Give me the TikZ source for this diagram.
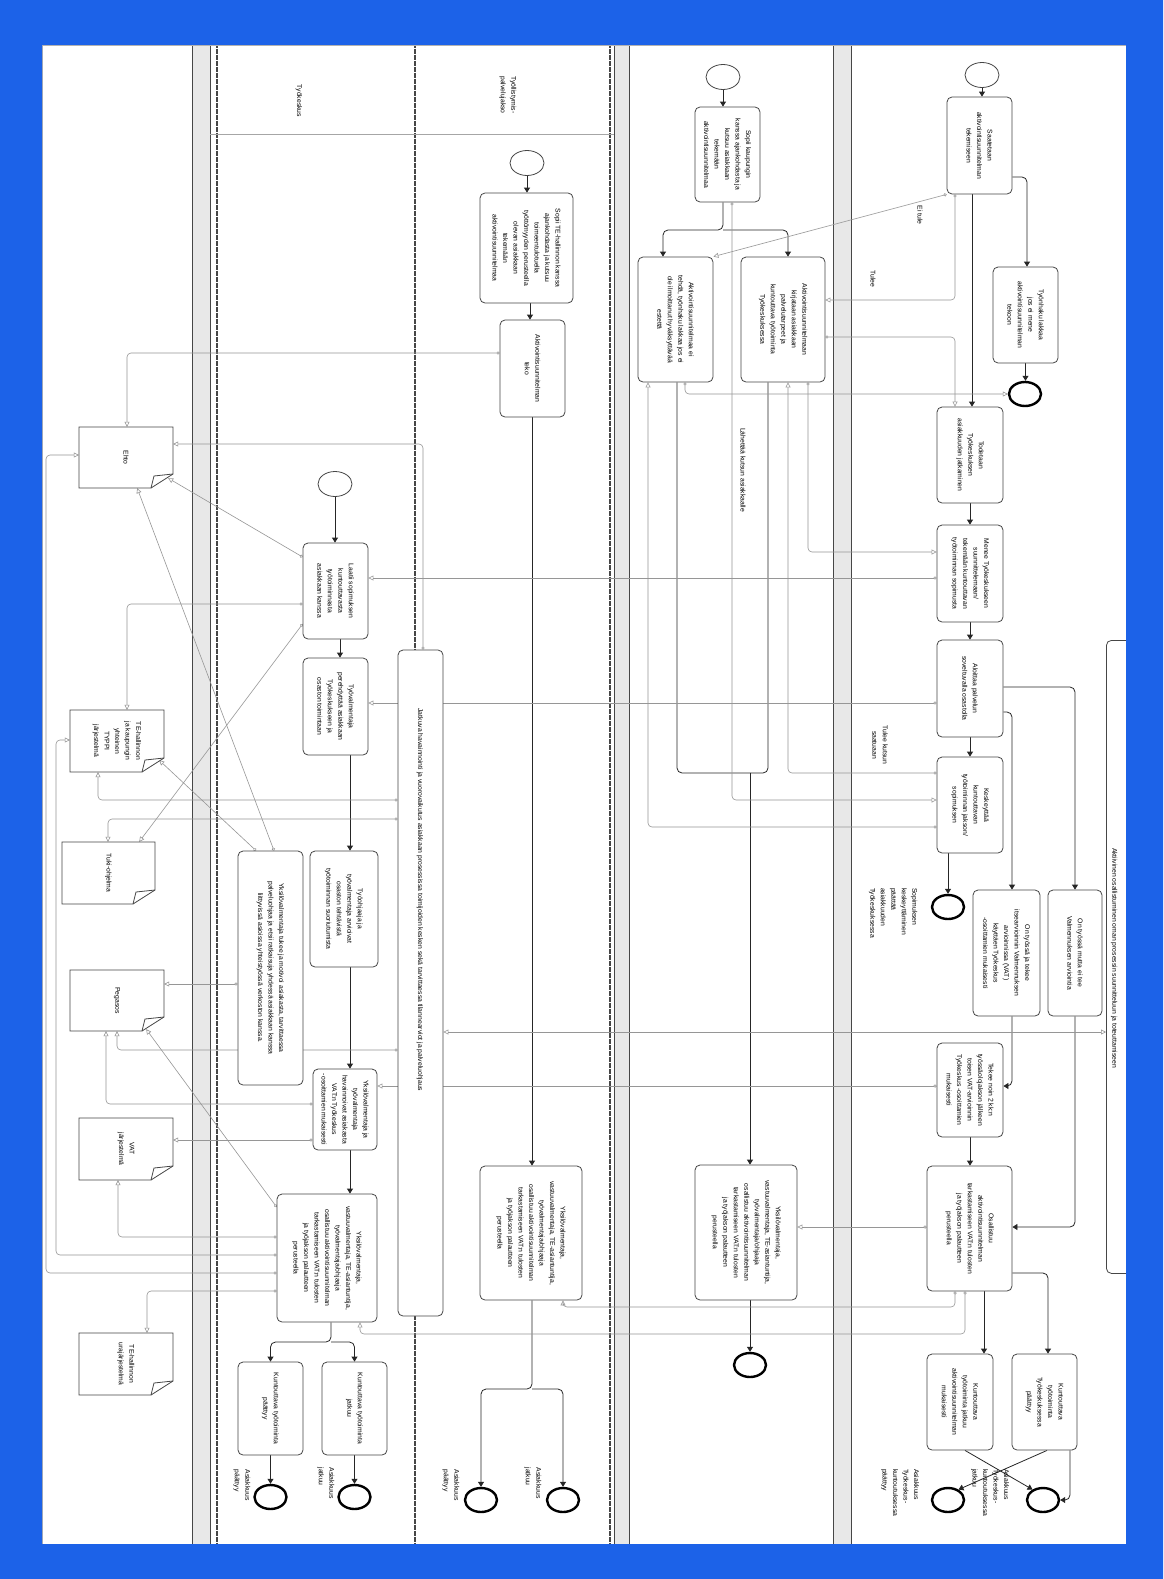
\documentclass[tikz,border=0pt]{standalone}
\usepackage{fontspec}
\setmainfont{Liberation Sans}
\usepackage{graphicx}
\usetikzlibrary{shapes.geometric,arrows.meta}
\definecolor{frameblue}{RGB}{28,98,232}
\definecolor{boxline}{RGB}{70,70,70}
\definecolor{msgc}{RGB}{150,150,150}
\definecolor{bandgray}{RGB}{232,232,232}
\pgfdeclarelayer{bg}
\pgfdeclarelayer{mid}
\pgfsetlayers{bg,mid,main}
\newcommand{\tb}[6]{\node[task, minimum width={#4-#2}, minimum height={#5-#3}] (#1) at ({(#2+#4)/2},{(#3+#5)/2}) {\rotatebox{-90}{\parbox{\dimexpr#5pt-#3pt-6pt\relax}{\centering #6}}};}
\newcommand{\lb}[5]{\node[inner sep=0] (#1) at (#2,#3) {\rotatebox{-90}{\parbox{#4pt}{#5}}};}
\newcommand{\docu}[6]{%
 \draw[docline] (#2,#3) -- (#4,#3) -- (#4,#5-14) -- (#4-22,#5) -- (#2,#5) -- cycle;
 \draw[docline,fill=none] (#4-22,#5) -- (#4-19,#5-12) -- (#4,#5-14);
 \node[inner sep=0, minimum width={#4-#2}, minimum height={#5-#3}] (#1) at ({(#2+#4)/2},{(#3+#5)/2}) {\rotatebox{-90}{\parbox{\dimexpr#5pt-#3pt-6pt\relax}{\centering #6}}};}
\begin{document}
\begin{tikzpicture}[x=1pt,y=-1pt,
  font=\fontsize{6.8}{10.5}\selectfont,
  task/.style={draw=boxline, line width=0.8, rounded corners=5, fill=white, inner sep=0},
  startev/.style={ellipse, draw=boxline, line width=0.8, fill=white, minimum width=34, minimum height=25, inner sep=0},
  endev/.style={ellipse, draw=black, line width=2.4, fill=white, minimum width=32, minimum height=24, inner sep=0},
  docline/.style={draw=boxline, line width=0.8, fill=white},
  seq/.style={draw=black!85, line width=0.8, rounded corners=5, arrows={-Triangle[length=5pt,width=6pt]}},
  seqnt/.style={draw=black!85, line width=0.8, rounded corners=5},
  msg/.style={draw=msgc, line width=0.6, rounded corners=4, arrows={Circle[open,length=3.2pt,width=3.2pt]-Triangle[open,length=5pt,width=5pt]}},
  msgboth/.style={draw=msgc, line width=0.6, arrows={Triangle[open,length=5pt,width=5pt]-Triangle[open,length=5pt,width=5pt]}},
  lanedot/.style={draw=gray!55!black, line width=1.3, dash pattern=on 0.6pt off 0.6pt},
  poolln/.style={draw=gray!55!black, line width=0.9}]
\useasboundingbox (0,0) rectangle (1163,1579);

\begin{pgfonlayer}{bg}
\fill[white] (42,45) rectangle (1126,1544);
\fill[bandgray] (192,45) rectangle (210,1544);
\fill[bandgray] (614,45) rectangle (629,1544);
\fill[bandgray] (833,45) rectangle (851,1544);
\draw[poolln] (192,45) -- (192,1544);
\draw[poolln] (210,45) -- (210,1544);
\draw[poolln] (614,45) -- (614,1544);
\draw[poolln] (629,45) -- (629,1544);
\draw[poolln] (833,45) -- (833,1544);
\draw[poolln] (851,45) -- (851,1544);
\draw[lanedot] (217,45) -- (217,1544);
\draw[lanedot] (415,45) -- (415,1544);
\draw[lanedot] (610,45) -- (610,1544);
\draw[gray!70, line width=0.8] (210,134) -- (614,134);
\end{pgfonlayer}

% ---------- Pool C ----------
\node[task, minimum width=40, minimum height=633, anchor=north west] (longb) at (1106,640) {};
\node[startev] (sC) at (982,75) {};
\tb{tSaat}{947}{97}{1012}{194}{Saatetaan\\aktivointisuunnitelman\\tekemiseen}
\tb{tLakkaa}{993}{267}{1058}{363}{Työnhaku lakkaa\\jos ei mene\\aktivointisuunnitelman\\tekoon}
\node[endev] (eLakkaa) at (1025,394) {};
\tb{tTodetaan}{937}{407}{1003}{503}{Todetaan\\Työkeskuksen\\asiakkuuden jatkaminen}
\tb{tMenee}{937}{525}{1003}{622}{Menee Työkeskukseen\\suunnittelemaan/\\tekemään kuntouttavan\\työtoiminnan sopimusta}
\tb{tAloittaa}{937}{640}{1003}{737}{Aloittaa palvelun\\soveltuvalla osastolla}
\tb{tKeskeyt}{937}{757}{1003}{853}{Keskeyttää\\kuntouttavan\\työtoiminnan jakson/\\sopimuksen}
\node[endev] (eKesk) at (948,907) {};
\tb{tOnTeke}{973}{890}{1040}{1016}{On työssä ja tekee\\itsearvioinnin Valmennuksen\\arvioinnissa (VAT)\\käyttäen Työkeskus\\-osoittamien mukaisesti}
\tb{tOnEi}{1048}{890}{1102}{1016}{On työssä mutta ei tee\\Valmennuksen arviointia}
\tb{tTekee}{937}{1043}{1003}{1137}{Tekee noin 2 kk:n\\työssäolojakson jälkeen\\toisen VAT-arvioinnin\\Työkeskus -osoittamien\\mukaisesti}
\tb{tOsall}{927}{1166}{1012}{1291}{Osallistuu\\aktivointisuunnitelman\\tarkastamiseen VAT:n tulosten\\ja työjakson palautteen\\perusteella}
\tb{tJatkuu}{927}{1354}{993}{1450}{Kuntouttava\\työtoiminta jatkuu\\aktivointisuunnitelman\\mukaisesti}
\tb{tPaattyy}{1012}{1354}{1077}{1450}{Kuntouttava\\työtoiminta\\Työkeskuksessa\\päättyy}
\node[endev] (eC1) at (948,1500) {};
\node[endev] (eC2) at (1043,1500) {};

% ---------- Pool B ----------
\node[startev] (sB) at (723,77) {};
\tb{tSopii}{695}{107}{760}{202}{Sopii kaupungin\\kanssa ajankohdasta ja\\kutsuu asiakkaan\\tekemään\\aktivointisuunnitelmaa}
\tb{t18}{638}{257}{713}{382}{Aktivointisuunnitelmaa ei\\tehdä, työnhaku lakkaa jos ei\\ole ilmoittanut hyväksyttävää\\estettä}
\tb{t19}{741}{257}{825}{382}{Aktivointisuunnitelmaan\\kirjataan asiakkaan\\palvelutarpeet ja\\kuntouttava työtoiminta\\Työkeskuksessa}
\tb{t20}{695}{1165}{797}{1300}{Yksilövalmentaja,\\vastuuvalmentaja, TE-asiantuntija,\\työvalmentaja/ohjaaja\\osallistuu aktivointisuunnitelman\\tarkastamiseen VAT:n tulosten\\ja työjakson palautteen\\perusteella}
\node[endev] (eB) at (750,1365) {};

% ---------- Pool A, lane 2 ----------
\node[startev] (sA2) at (527,163) {};
\tb{t23}{480}{193}{573}{303}{Sopii TE-hallinnon kanssa\\ajankohdasta ja kutsuu\\toimeentulotuella\\työttömyyden perusteella\\olevan asiakkaan\\tekemään\\aktivointisuunnitelmaa}
\tb{t24}{500}{320}{565}{417}{Aktivointisuunnitelman\\teko}
\tb{t21}{480}{1166}{582}{1300}{Yksilövalmentaja,\\vastuuvalmentaja, TE-asiantuntija,\\työvalmentaja/ohjaaja\\osallistuu aktivointisuunnitelman\\tarkastamiseen VAT:n tulosten\\ja työjakson palautteen\\perusteella}
\node[endev] (eA2a) at (481,1500) {};
\node[endev] (eA2b) at (563,1500) {};
\node[task, minimum width=45, minimum height=666] (jat) at (420.5,983) {};

% ---------- Pool A, lane 1 ----------
\node[startev] (sA1) at (335,484) {};
\tb{L1}{303}{543}{368}{639}{Laatii sopimuksen\\kuntouttavasta\\työtoiminnasta\\asiakkaan kanssa}
\tb{L2}{303}{658}{368}{755}{Työvalmentaja\\perehdyttää asiakkaan\\Työkeskukseen ja\\osaston toimintaan}
\tb{L3}{238}{851}{303}{1085}{Yksilövalmentaja tukee ja motivoi asiakasta, tarvittaessa\\palveluohjaa ja etsii ratkaisuja yhdessä asiakkaan kanssa\\liittyvissä asioissa yhteistyössä verkoston kanssa.}
\tb{L4}{310}{851}{378}{967}{Työohjaaja ja\\työvalmentaja arvioivat\\osaston tehtävistä\\työtoiminnan suoriutumista}
\tb{L5}{313}{1069}{377}{1150}{Yksilövalmentaja ja\\työvalmentaja\\havainnoivat asiakasta\\VAT:n Työkeskus\\-osoittamien mukaisesti}
\tb{L6}{277}{1194}{377}{1322}{Yksilövalmentaja,\\vastuuvalmentaja, TE-asiantuntija,\\työvalmentaja/ohjaaja\\osallistuu aktivointisuunnitelman\\tarkastamiseen VAT:n tulosten\\ja työjakson palautteen\\perusteella}
\tb{L7}{238}{1362}{303}{1455}{Kuntouttava työtoiminta\\päättyy}
\tb{L8}{322}{1362}{387}{1455}{Kuntouttava työtoiminta\\jatkuu}
\node[endev] (eA1a) at (270.5,1497) {};
\node[endev] (eA1b) at (354.5,1497) {};

% ---------- Documents ----------
\docu{ehto}{79}{427}{173}{488}{Ehto}
\docu{typpi}{70}{710}{164}{772}{TE-hallinnon\\ja kaupungin\\yhteinen\\TYPPI\\järjestelmä}
\docu{tuki}{62}{842}{155}{904}{Tuki-ohjelma}
\docu{peg}{70}{970}{164}{1031}{Pegasos}
\docu{vat}{79}{1118}{173}{1180}{VAT\\järjestelmä}
\docu{ura}{79}{1333}{173}{1395}{TE-hallinnon\\urajärjestelmä}

% ---------- Labels ----------
\lb{hA1}{299}{101}{60}{\centering Työkeskus}
\lb{hA2}{508}{95}{60}{\centering Työllistymis-\\palvelujakso}
\lb{jatT}{420}{900}{440}{\centering Jatkuva havainnointi ja vuorovaikutus asiakkaan prosessissa toimijoiden kesken sekä tarvittaessa tilannearviot ja palveluohjaus}
\lb{longT}{1114}{958}{300}{\centering Aktiivinen osallistuminen oman prosessin suunnitteluun ja toteuttamiseen}
\lb{lEi}{920}{215}{40}{\centering Ei tule}
\lb{lTulee}{873}{279}{40}{\centering Tulee}
\lb{lKutsu}{880}{745}{60}{\centering Tulee kutsun\\saatuaan}
\lb{lLah}{743}{470}{120}{\centering Lähettää kutsun asiakkaalle}
\lb{lSop}{893}{918}{60}{\raggedright Sopimuksen\\keskeyttäminen\\päättää\\asiakkuuden\\Työkeskuksessa}
\lb{lC1}{900}{1500}{62}{\raggedright Asiakkuus\\Työkeskus-\\kuntoutuksessa\\päättyy}
\lb{lC2}{990}{1500}{62}{\raggedright Asiakkuus\\Työkeskus-\\kuntoutuksessa\\jatkuu}
\lb{lA2a}{451}{1492}{45}{\raggedright Asiakkuus\\päättyy}
\lb{lA2b}{533}{1490}{45}{\raggedright Asiakkuus\\jatkuu}
\lb{lA1a}{242}{1492}{45}{\raggedright Asiakkuus\\päättyy}
\lb{lA1b}{326}{1490}{45}{\raggedright Asiakkuus\\jatkuu}

% ---------- Connectors ----------
\begin{pgfonlayer}{mid}
% pool C
\draw[seq] (sC.south) -- (sC.south |- tSaat.north);
\draw[seq] (tSaat.east |- 0,177) -| (1027,0 |- tLakkaa.north);
\draw[seq] (tLakkaa.south) -- (tLakkaa.south |- eLakkaa.north);
\draw[seq] (972,0 |- tSaat.south) -- (972,0 |- tTodetaan.north);
\draw[seq] (tTodetaan.south) -- (tMenee.north);
\draw[seq] (tMenee.south) -- (tAloittaa.north);
\draw[seq] (tAloittaa.south) -- (tKeskeyt.north);
\draw[seq] (eKesk.north |- tKeskeyt.south) -- (eKesk.north);
\draw[seq] (tAloittaa.east |- 0,687) -| (tOnEi.north);
\draw[seq] (tAloittaa.east |- 0,712) -| (1012,0 |- tOnTeke.north);
\draw[seq] (1012,0 |- tOnTeke.south) |- (tTekee.east |- 0,1086);
\draw[seq] (tOnEi.south) |- (tOsall.east |- 0,1227);
\draw[seq] (tTekee.south) -- (tTekee.south |- tOsall.north);
\draw[seq] (984,0 |- tOsall.south) -- (984,0 |- tJatkuu.north);
\draw[seq] (tOsall.east |- 0,1273) -| (1048,0 |- tPaattyy.north);
\draw[seq] (965,0 |- tJatkuu.south) -- (eC2.135);
\draw[seq] (1047,0 |- tPaattyy.south) -- (eC1.45);
\draw[seq] (1070,0 |- tPaattyy.south) |- (eC2.east);
% pool B
\coordinate (jB1) at (723,230);
\coordinate (jB2) at (750,773);
\draw[seq] (sB.south) -- (sB.south |- tSopii.north);
\draw[seq] (723,0 |- tSopii.south) -- (jB1) -| (663,0 |- t18.north);
\draw[seq] (jB1) -| (788,0 |- t19.north);
\draw[seqnt] (677,0 |- t18.south) |- (jB2);
\draw[seqnt] (768,0 |- t19.south) |- (jB2);
\draw[seq] (jB2) -- (jB2 |- t20.north);
\draw[seq] (t20.south -| eB.north) -- (eB.north);
% lane 2
\coordinate (jA2) at (532,1389);
\draw[seq] (sA2.south) -- (sA2.south |- t23.north);
\draw[seq] (530,0 |- t23.south) -- (530,0 |- t24.north);
\draw[seq] (532,0 |- t24.south) -- (532,0 |- t21.north);
\draw[seq] (532,0 |- t21.south) -- (jA2) -| (eA2a.north);
\draw[seq] (jA2) -| (eA2b.north);
% lane 1
\coordinate (jA1) at (331,1342);
\draw[seq] (sA1.south) -- (sA1.south |- L1.north);
\draw[seq] (340,0 |- L1.south) -- (340,0 |- L2.north);
\draw[seq] (350,0 |- L2.south) -- (350,0 |- L4.north);
\draw[seq] (350,0 |- L4.south) -- (350,0 |- L5.north);
\draw[seq] (350,0 |- L5.south) -- (350,0 |- L6.north);
\draw[seq] (331,0 |- L6.south) -- (jA1) -| (L7.north);
\draw[seq] (jA1) -| (L8.north);
\draw[seq] (L7.south) -- (eA1a.north);
\draw[seq] (L8.south) -- (eA1b.north);
% messages between pools
\draw[msg] (tSaat.south west) -- (t18.north east);
\draw[msg] (955,0 |- tSaat.south) |- (t19.east |- 0,300);
\draw[msg] (t19.east |- 0,337) -| (955,0 |- tTodetaan.north);
\draw[msg] (685,0 |- t18.south) |- (eLakkaa.west);
\draw[msg] (732,0 |- tSopii.south) |- (tKeskeyt.west |- 0,800);
\draw[msg] (tKeskeyt.west |- 0,827) -| (648,0 |- t18.south);
\draw[msg] (tKeskeyt.west |- 0,773) -| (788,0 |- t19.south);
\draw[msg] (808,0 |- t19.south) |- (tMenee.west |- 0,552);
\draw[msg] (tMenee.west |- 0,578) -- (L1.east |- 0,578);
\draw[msg] (tAloittaa.west |- 0,703) -- (L2.east |- 0,703);
\draw[msg] (tTekee.west |- 0,1086) -- (L5.east |- 0,1086);
\draw[msg] (tOsall.west |- 0,1227) -- (t20.east |- 0,1227);
\draw[msg] (955,0 |- tOsall.south) |- (563,1307) -- (563,0 |- t21.south);
\draw[msg] (965,0 |- tOsall.south) |- (360,1334) -- (360,0 |- L6.south);
\draw[msgboth] (longb.west |- 0,1032) -- (jat.east |- 0,1032);
% messages to documents
\draw[msg] (t24.west |- 0,353) -| (127,0 |- ehto.north);
\draw[msg] (423,0 |- jat.north) |- (ehto.east |- 0,444);
\draw[msg] (L1.west |- 0,557) -- ([shift={(-5,-10)}]ehto.south east);
\draw[msg] (L1.west |- 0,604) -| (127,0 |- typpi.north);
\draw[msg] (L1.west |- 0,624) -- ([shift={(-16,0)}]tuki.north east);
\draw[msg] (256,0 |- L3.north) -- ([shift={(-5,-12)}]typpi.south east);
\draw[msg] (274,0 |- L3.north) -- ([shift={(-36,0)}]ehto.south east);
\draw[msg] (L3.west |- 0,984) -- (peg.east |- 0,984);
\draw[msg] (jat.west |- 0,800) -| (98,0 |- typpi.south);
\draw[msg] (jat.west |- 0,819) -| (108,0 |- tuki.north);
\draw[msg] (jat.west |- 0,1050) -| (117,0 |- peg.south);
\draw[msg] (L5.west |- 0,1104) -| (106,0 |- peg.south);
\draw[msg] (L5.west |- 0,1140) -- (vat.east |- 0,1140);
\draw[msg] (L6.west |- 0,1207) -- ([shift={(-18,-2)}]peg.south east);
\draw[msg] (L6.west |- 0,1237) -| (118,0 |- vat.south);
\draw[msg] (L6.west |- 0,1255) -| (56,740) -- (typpi.west |- 0,740);
\draw[msg] (L6.west |- 0,1273) -| (46,455) -- (ehto.west |- 0,455);
\draw[msg] (L6.west |- 0,1291) -| (147,0 |- ura.north);
\end{pgfonlayer}

% ---------- frame ----------
\draw[gray!60, line width=0.8] (42,45) rectangle (1126,1544);
\fill[frameblue, even odd rule] (0,0) rectangle (1163,1579) (42,45) rectangle (1126,1544);
\end{tikzpicture}
\end{document}
